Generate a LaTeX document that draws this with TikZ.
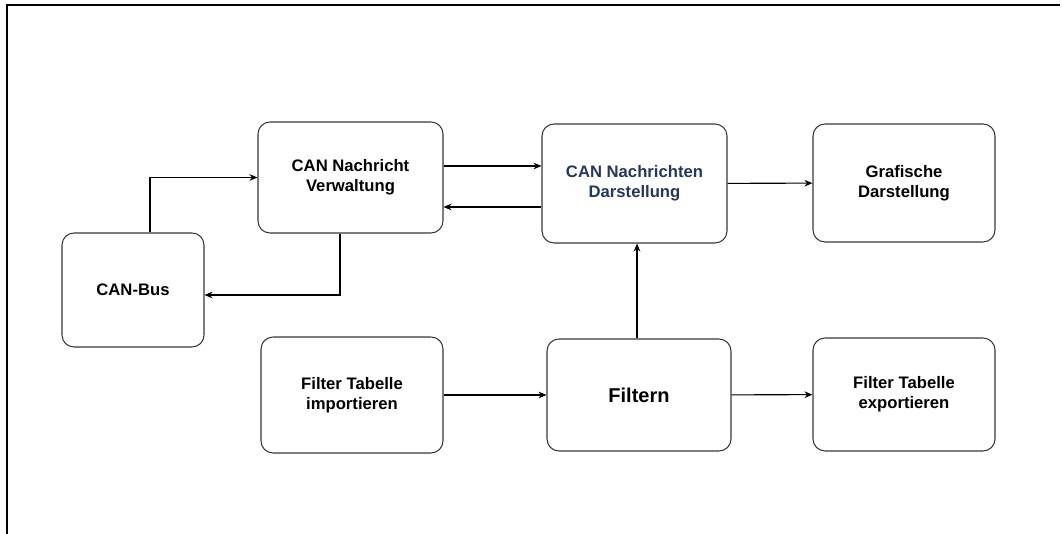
\documentclass[tikz,border=0pt]{standalone}
\usepackage{fontspec}
\setmainfont{Liberation Sans}
\usepackage{tikz}
\usetikzlibrary{arrows.meta, positioning, calc}
\definecolor{navytext}{RGB}{35,55,95}
\definecolor{boxline}{RGB}{55,55,55}

\begin{document}
\begin{tikzpicture}[x=0.75pt, y=-0.75pt,
    box/.style={draw=boxline, line width=0.8pt, rounded corners=9pt, align=center,
        inner sep=0pt, font=\bfseries\fontsize{12.5}{15}\selectfont},
    arr/.style={line width=0.8pt, -{Stealth[length=6pt, width=5pt]}}]
    \useasboundingbox (0,0) rectangle (1063,534);
    \draw[line width=1pt] (7,534) -- (7,5) -- (1060,5);
    \node[box, minimum width=138.75pt, minimum height=83.25pt] (verw) at (350.5,177.5) {CAN Nachricht\\Verwaltung};
    \node[box, minimum width=138.75pt, minimum height=89.25pt, text=navytext] (darst) at (634.5,183.5) {CAN Nachrichten\\Darstellung};
    \node[box, minimum width=136.5pt, minimum height=88.5pt] (graf) at (904,183) {Grafische\\Darstellung};
    \node[box, minimum width=106.5pt, minimum height=85.5pt] (bus) at (133,290) {CAN-Bus};
    \node[box, minimum width=136.5pt, minimum height=87pt] (imp) at (352,395) {Filter Tabelle\\importieren};
    \node[box, minimum width=138pt, minimum height=84pt, font=\bfseries\fontsize{15}{18}\selectfont] (filt) at (639,395) {Filtern};
    \node[box, minimum width=136.5pt, minimum height=84.75pt] (exp) at (904,394.5) {Filter Tabelle\\exportieren};
    \draw[arr] (bus.north -| 150,0) |- (verw.west);
    \draw[arr] (verw.south -| 340,0) |- (bus.east |- 0,295);
    \draw[arr] (verw.east |- 0,166) -- (darst.west |- 0,166);
    \draw[arr] (darst.west |- 0,207) -- (verw.east |- 0,207);
    \draw[arr] (darst) -- (graf);
    \draw[arr] (filt.north -| 637,0) -- (darst.south -| 637,0);
    \draw[arr] (imp) -- (filt);
    \draw[arr] (filt) -- (exp);
\end{tikzpicture}
\end{document}
